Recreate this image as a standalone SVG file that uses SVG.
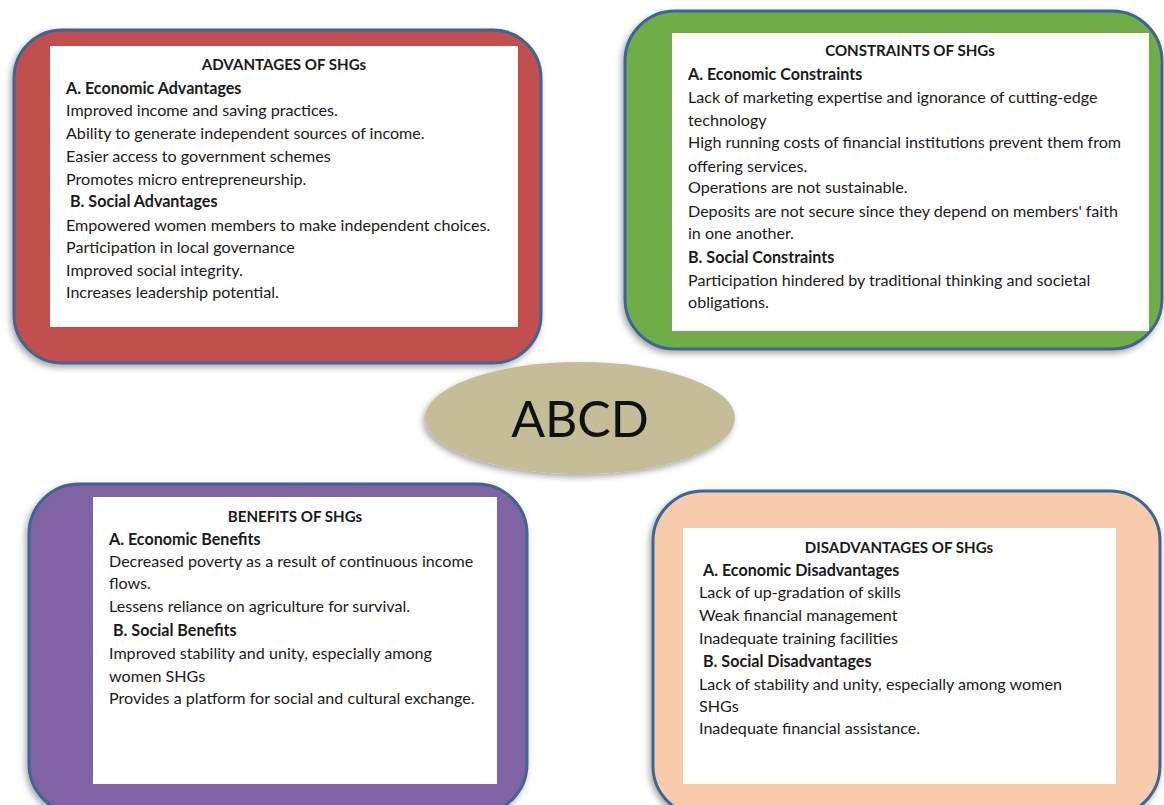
<svg xmlns="http://www.w3.org/2000/svg" width="1164" height="805" viewBox="0 0 1164 805">
<style>
.outer{stroke:#3d6598;stroke-width:3}
.inner{fill:#ffffff}
text{font-family:Lato,"Liberation Sans",sans-serif;font-size:16.1px;fill:#1a1a1a}
.b{font-weight:bold}
.t{font-weight:bold;text-anchor:middle;font-size:15.1px}
</style>
<defs>
<filter id="sh" x="-10%" y="-10%" width="120%" height="125%">
<feDropShadow dx="-2" dy="3" stdDeviation="3" flood-color="#000" flood-opacity="0.35"/>
</filter>
</defs>
<rect width="1164" height="805" fill="#ffffff"/>
<g id="connectors"></g>
<g id="advantages">
<rect class="outer" x="14" y="30" width="527" height="333" rx="48" fill="#c0504d" filter="url(#sh)"/>
<rect class="inner" x="50" y="46" width="468" height="281"/>
<text class="t" x="284" y="70">ADVANTAGES OF SHGs</text>
<text class="b" x="66" y="94">A. Economic Advantages</text>
<text x="66" y="116">Improved income and saving practices.</text>
<text x="66" y="139">Ability to generate independent sources of income.</text>
<text x="66" y="162">Easier access to government schemes</text>
<text x="66" y="185">Promotes micro entrepreneurship.</text>
<text class="b" x="70" y="207">B. Social Advantages</text>
<text x="66" y="231">Empowered women members to make independent choices.</text>
<text x="66" y="253">Participation in local governance</text>
<text x="66" y="276">Improved social integrity.</text>
<text x="66" y="298">Increases leadership potential.</text>
</g>
<g id="constraints">
<rect class="outer" x="625" y="11" width="537" height="338" rx="50" fill="#70ad47" filter="url(#sh)"/>
<rect class="inner" x="672" y="33" width="477" height="298"/>
<text class="t" x="910" y="56">CONSTRAINTS OF SHGs</text>
<text class="b" x="688" y="80">A. Economic Constraints</text>
<text x="688" y="103">Lack of marketing expertise and ignorance of cutting-edge</text>
<text x="688" y="126">technology</text>
<text x="688" y="148">High running costs of financial institutions prevent them from</text>
<text x="688" y="172">offering services.</text>
<text x="688" y="193">Operations are not sustainable.</text>
<text x="688" y="217">Deposits are not secure since they depend on members' faith</text>
<text x="688" y="239">in one another.</text>
<text class="b" x="688" y="263">B. Social Constraints</text>
<text x="688" y="286">Participation hindered by traditional thinking and societal</text>
<text x="688" y="308">obligations.</text>
</g>
<g id="center">
<ellipse cx="580" cy="418" rx="155" ry="56" fill="#c4bd97" filter="url(#sh)"/>
<text x="580" y="437" text-anchor="middle" style="font-size:50px;fill:#111">ABCD</text>
</g>
<g id="benefits">
<rect class="outer" x="29" y="484" width="498" height="330" rx="50" fill="#8064a2" filter="url(#sh)"/>
<rect class="inner" x="93" y="497" width="404" height="287"/>
<text class="t" x="295" y="522">BENEFITS OF SHGs</text>
<text class="b" x="109" y="545">A. Economic Benefits</text>
<text x="109" y="567">Decreased poverty as a result of continuous income</text>
<text x="109" y="589">flows.</text>
<text x="109" y="612">Lessens reliance on agriculture for survival.</text>
<text class="b" x="113" y="636">B. Social Benefits</text>
<text x="109" y="659">Improved stability and unity, especially among</text>
<text x="109" y="682">women SHGs</text>
<text x="109" y="704">Provides a platform for social and cultural exchange.</text>
</g>
<g id="disadvantages">
<rect class="outer" x="653" y="491" width="507" height="325" rx="50" fill="#f8cbad" filter="url(#sh)"/>
<rect class="inner" x="683" y="528" width="433" height="256"/>
<text class="t" x="899" y="553">DISADVANTAGES OF SHGs</text>
<text class="b" x="703" y="576">A. Economic Disadvantages</text>
<text x="699" y="598">Lack of up-gradation of skills</text>
<text x="699" y="621">Weak financial management</text>
<text x="699" y="644">Inadequate training facilities</text>
<text class="b" x="703" y="667">B. Social Disadvantages</text>
<text x="699" y="690">Lack of stability and unity, especially among women</text>
<text x="699" y="712">SHGs</text>
<text x="699" y="734">Inadequate financial assistance.</text>
</g>
</svg>
